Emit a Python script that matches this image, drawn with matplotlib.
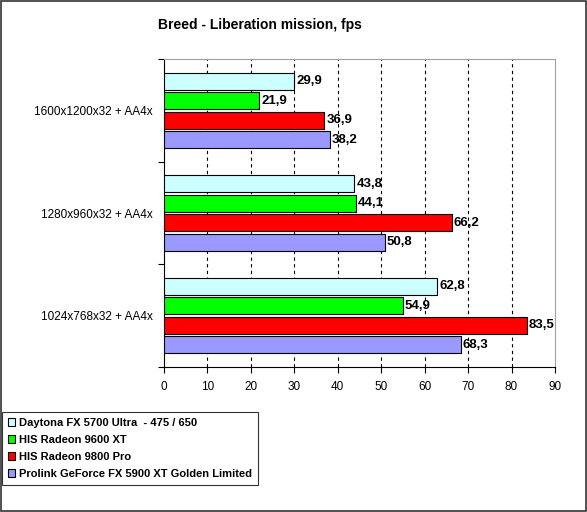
import matplotlib
matplotlib.use("Agg")
import matplotlib.pyplot as plt
from matplotlib.patches import Rectangle
import numpy as np

plt.rcParams['font.family'] = ['Liberation Sans', 'DejaVu Sans']

categories = ["1024x768x32 + AA4x", "1280x960x32 + AA4x", "1600x1200x32 + AA4x"]
series_names = ["Daytona FX 5700 Ultra  - 475 / 650", "HIS Radeon 9600 XT",
                "HIS Radeon 9800 Pro", "Prolink GeForce FX 5900 XT Golden Limited"]
daytona = [62.8, 43.8, 29.9]
his9600 = [54.9, 44.1, 21.9]
his9800 = [83.5, 66.2, 36.9]
prolink = [68.3, 50.8, 38.2]
colors = ["#CCFFFF", "#00FF00", "#FF0000", "#9999FF"]
xticks = list(range(0, 91, 10))

fig = plt.figure(figsize=(5.87, 5.12), dpi=100)
fig.patch.set_facecolor("white")
fig.add_artist(Rectangle((0.001, 0.001), 0.997, 0.997, transform=fig.transFigure,
                         fill=False, edgecolor="#333333", linewidth=1.2))

ax = fig.add_axes([164/587, 1-367/512, (555-164)/587, (367-59)/512])
offsets = [0.285, 0.095, -0.095, -0.285]
h = 0.165
for vals, off, c in zip([daytona, his9600, his9800, prolink], offsets, colors):
    y = np.arange(len(categories)) + 0.5 + off
    ax.barh(y, vals, height=h, color=c, edgecolor="black", linewidth=0.8, zorder=3)
    for yi, v in zip(y, vals):
        ax.text(v + 0.5, yi, f"{v:.1f}".replace(".", ","), va="center", ha="left",
                fontsize=9.5, fontweight="bold", zorder=4)

ax.set_xlim(0, 90)
ax.set_ylim(0, 3)
ax.set_xticks(xticks)
ax.set_xticklabels([str(t) for t in xticks], fontsize=8.5)
ax.set_yticks([0, 1, 2, 3])
ax.set_yticklabels([])
ax.set_yticks([0.5, 1.5, 2.5], minor=True)
ax.set_yticklabels(categories, minor=True, fontsize=8.5)
ax.tick_params(axis='y', which='minor', length=0, pad=8)
ax.tick_params(axis='y', which='major', length=4, direction='out', width=0.8)
ax.tick_params(axis='x', length=4, direction='out', width=0.8, pad=6)
for x in xticks[1:-1]:
    ax.axvline(x, color="black", linestyle=(0, (3, 3)), linewidth=0.8, zorder=1)
for s in ["top", "right"]:
    ax.spines[s].set_color("#A0A0A0")
ax.spines["left"].set_color("black")
ax.spines["bottom"].set_color("black")

fig.text(260/587, 1-25/512, "Breed - Liberation mission, fps", ha="center", va="center",
         fontsize=10, fontweight="bold")

handles = [Rectangle((0, 0), 1, 1, facecolor=c, edgecolor="black", linewidth=0.8) for c in colors]
leg = fig.legend(handles, series_names, loc="upper left",
                 bbox_to_anchor=(2/587, 1-412/512), prop={'weight': 'bold', 'size': 8},
                 handlelength=0.7, handleheight=0.7, handletextpad=0.35,
                 borderpad=0.5, labelspacing=0.65, fancybox=False, frameon=True,
                 borderaxespad=0)
leg.get_frame().set_edgecolor("black")
leg.get_frame().set_linewidth(0.8)

fig.savefig("out.png", dpi=100)
